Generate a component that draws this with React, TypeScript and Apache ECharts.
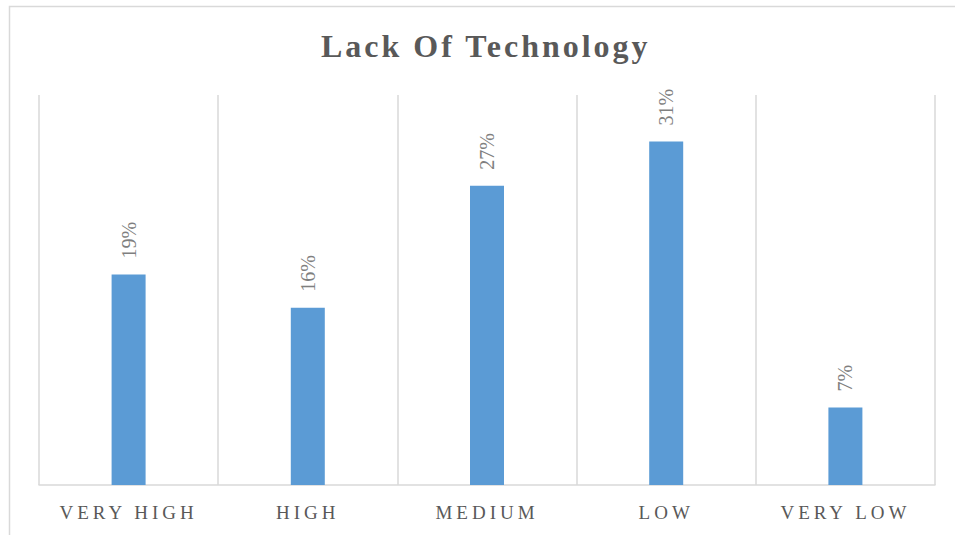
import React, { useEffect, useRef } from "react";
import * as echarts from "echarts";

const categories = ["VERY HIGH", "HIGH", "MEDIUM", "LOW", "VERY LOW"];
const values = [19, 16, 27, 31, 7];
const titleText = "Lack Of Technology";

const FONT = "'Liberation Serif', 'Times New Roman', serif";

export default function App() {
  const ref = useRef<HTMLDivElement>(null);

  useEffect(() => {
    if (!ref.current) return;
    const chart = echarts.init(ref.current, null, { renderer: "svg" });
    chart.setOption({
      animation: false,
      backgroundColor: "#ffffff",
      title: {
        text: titleText,
        left: 316,
        top: 25,
        textStyle: {
          fontFamily: FONT,
          fontSize: 32,
          fontWeight: "bold",
          color: "#595959",
        },
      },
      graphic: [
        {
          type: "rect",
          shape: { x: 9.5, y: 6.5, width: 1000, height: 600 },
          style: { fill: "none", stroke: "#d9d9d9", lineWidth: 1.5 },
          silent: true,
        },
      ],
      grid: { left: 39, right: 20, top: 95, bottom: 50 },
      xAxis: {
        type: "category",
        data: categories,
        boundaryGap: true,
        axisLine: { show: true, lineStyle: { color: "#d9d9d9", width: 1.5 } },
        axisTick: { show: false },
        splitLine: { show: true, lineStyle: { color: "#d9d9d9", width: 1.5 } },
        axisLabel: {
          fontFamily: FONT,
          fontSize: 19,
          color: "#595959",
          margin: 18,
        },
      },
      yAxis: {
        type: "value",
        min: 0,
        max: 35.2,
        show: false,
        splitLine: { show: false },
      },
      series: [
        {
          type: "bar",
          data: values,
          barWidth: 34,
          itemStyle: { color: "#5b9bd5" },
          label: {
            show: true,
            position: "top",
            rotate: 90,
            align: "left",
            verticalAlign: "middle",
            distance: 16,
            fontFamily: FONT,
            fontSize: 20,
            color: "#7f7f7f",
            formatter: (p: any) => p.value + "%",
          },
        },
      ],
    });
    return () => chart.dispose();
  }, []);

  return (
    <>
      <style>{`
        #chart-box text[style*="32px"] { letter-spacing: 3px; }
        #chart-box text[style*="19px"] { letter-spacing: 4px; }
      `}</style>
      <div
        id="chart-box"
        ref={ref}
        style={{ position: "fixed", left: 0, top: 0, width: 955, height: 535 }}
      />
    </>
  );
}
